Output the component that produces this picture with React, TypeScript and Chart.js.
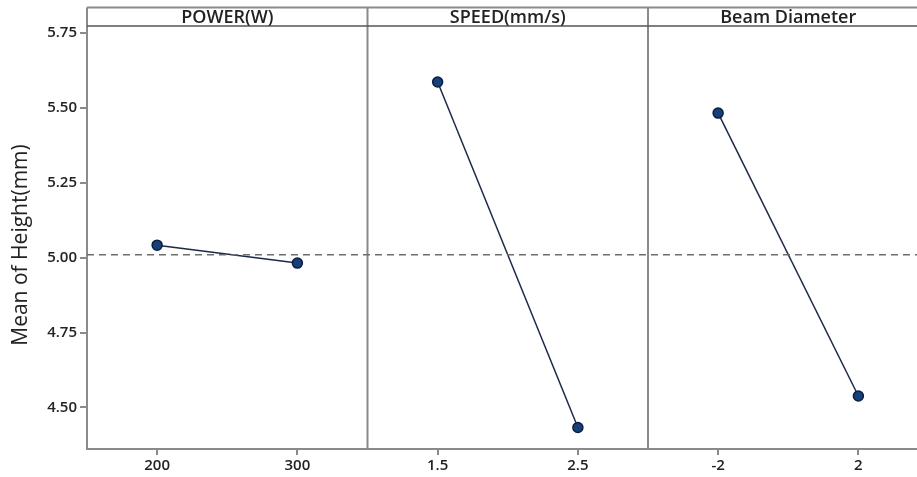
import React, { useEffect, useRef } from "react";
import { Chart, registerables } from "chart.js";

Chart.register(...registerables);

const PANELS = ["POWER(W)", "SPEED(mm/s)", "Beam Diameter"];
const POWER_LEVELS = ["200", "300"];
const SPEED_LEVELS = ["1.5", "2.5"];
const BEAM_LEVELS = ["-2", "2"];
const POWER_MEANS = [5.042, 4.982];
const SPEED_MEANS = [5.587, 4.433];
const BEAM_MEANS = [5.483, 4.538];
const GRAND_MEAN = 5.01;
const Y_TICKS = [4.5, 4.75, 5.0, 5.25, 5.5, 5.75];
const Y_MIN = 4.361;
const Y_MAX = 5.774;
const Y_TITLE = "Mean of Height(mm)";

const LEVELS = [POWER_LEVELS, SPEED_LEVELS, BEAM_LEVELS];
const MEANS = [POWER_MEANS, SPEED_MEANS, BEAM_MEANS];

const FONT = "'Open Sans', 'DejaVu Sans', sans-serif";
const FRAME = "#8a8a8a";

const panelPlugin = {
  id: "panelFrame",
  beforeDatasetsDraw(chart: any) {
    const { ctx, chartArea, scales } = chart;
    const xs = scales.x;
    const headerTop = 7.5;
    ctx.save();
    ctx.strokeStyle = FRAME;
    ctx.lineWidth = 2;
    ctx.beginPath();
    ctx.moveTo(chartArea.left, headerTop);
    ctx.lineTo(chartArea.right + 10, headerTop);
    ctx.stroke();
    ctx.beginPath();
    ctx.moveTo(chartArea.left, headerTop);
    ctx.lineTo(chartArea.left, chartArea.top);
    ctx.stroke();
    for (let p = 1; p < PANELS.length; p++) {
      const x = xs.getPixelForValue(p * 2);
      ctx.beginPath();
      ctx.moveTo(x, headerTop);
      ctx.lineTo(x, chartArea.bottom);
      ctx.stroke();
    }
    ctx.strokeStyle = "#555";
    ctx.lineWidth = 1.5;
    ctx.beginPath();
    ctx.moveTo(chartArea.left, chartArea.top);
    ctx.lineTo(chartArea.right + 10, chartArea.top);
    ctx.stroke();
    ctx.fillStyle = "#222";
    ctx.font = `600 18px ${FONT}`;
    ctx.textAlign = "center";
    ctx.textBaseline = "middle";
    PANELS.forEach((name, p) => {
      const cx = xs.getPixelForValue(p * 2 + 1);
      ctx.fillText(name, cx, (headerTop + chartArea.top) / 2 + 1);
    });
    // y axis title
    ctx.translate(21, 245);
    ctx.rotate(-Math.PI / 2);
    ctx.font = `normal 21px ${FONT}`;
    ctx.fillText(Y_TITLE, 0, 0);
    ctx.restore();
  },
};

export default function App() {
  const ref = useRef<HTMLCanvasElement>(null);
  useEffect(() => {
    if (!ref.current) return;
    const lineSets = MEANS.map((m, p) => ({
      type: "line" as const,
      label: PANELS[p],
      data: m.map((v, i) => ({ x: p * 2 + 0.5 + i, y: v })),
      borderColor: "#1b2a48",
      borderWidth: 1.5,
      pointRadius: 5,
      pointHoverRadius: 5,
      pointBackgroundColor: "#15407a",
      pointBorderColor: "#0b1f3f",
      pointBorderWidth: 1.5,
      tension: 0,
    }));
    const meanSet = {
      type: "line" as const,
      label: "mean",
      data: [
        { x: 0, y: GRAND_MEAN },
        { x: 6, y: GRAND_MEAN },
      ],
      borderColor: "#6e6e6e",
      borderWidth: 1.5,
      borderDash: [7, 5],
      pointRadius: 0,
    };
    const chart = new Chart(ref.current, {
      type: "line",
      data: { datasets: [meanSet, ...lineSets] as any },
      options: {
        animation: false,
        responsive: false,
        plugins: { legend: { display: false }, tooltip: { enabled: false } },
        layout: { padding: { top: 26, left: 0, right: 0, bottom: 0 } },
        scales: {
          x: {
            type: "linear",
            min: 0,
            max: 6,
            afterBuildTicks(scale: any) {
              const t: any[] = [];
              LEVELS.forEach((lv, p) => lv.forEach((_, i) => t.push({ value: p * 2 + 0.5 + i })));
              scale.ticks = t;
            },
            afterFit(scale: any) {
              scale.height = 28;
            },
            ticks: {
              autoSkip: false,
              maxRotation: 0,
              padding: 2,
              color: "#222",
              font: { family: FONT, size: 15, weight: "600" },
              callback(value: any) {
                const v = Number(value);
                const p = Math.floor(v / 2);
                const i = Math.round(v - p * 2 - 0.5);
                return LEVELS[p] ? LEVELS[p][i] : "";
              },
            },
            grid: {
              display: true,
              drawOnChartArea: false,
              drawTicks: true,
              tickLength: 6,
              color: FRAME,
              lineWidth: 2,
            },
            border: { display: true, color: FRAME, width: 2 },
          },
          y: {
            type: "linear",
            min: Y_MIN,
            max: Y_MAX,
            afterBuildTicks(scale: any) {
              scale.ticks = Y_TICKS.map((v) => ({ value: v }));
            },
            afterFit(scale: any) {
              scale.width = 87;
            },
            ticks: {
              padding: 3,
              color: "#222",
              font: { family: FONT, size: 15, weight: "600" },
              callback(value: any) {
                return Number(value).toFixed(2);
              },
            },
            grid: {
              display: true,
              drawOnChartArea: false,
              drawTicks: true,
              tickLength: 7,
              color: FRAME,
              lineWidth: 2,
            },
            border: { display: true, color: FRAME, width: 2 },
          },
        },
      },
      plugins: [panelPlugin],
    });
    return () => chart.destroy();
  }, []);
  return (
    <div style={{ position: "fixed", left: 0, top: 0, width: 935, height: 477, background: "#fff" }}>
      <canvas ref={ref} width={935} height={477} style={{ display: "block" }} />
    </div>
  );
}
